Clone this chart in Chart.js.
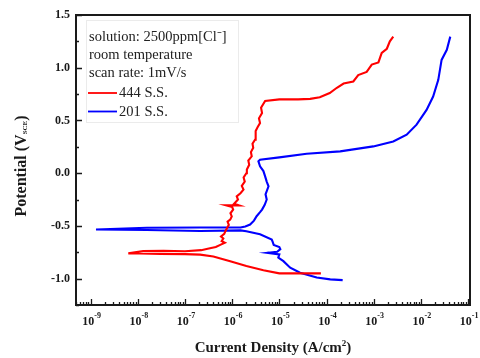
<!DOCTYPE html>
<html>
<head>
<meta charset="utf-8">
<script src="https://cdn.jsdelivr.net/npm/chart.js@4.4.0/dist/chart.umd.min.js"></script>
<style>
    html, body { margin: 0; padding: 0; background: #fff; }
    #wrap { width: 480px; height: 358px; }
</style>
</head>
<body>
<div id="wrap"><canvas id="polChart" width="480" height="358"></canvas></div>
<script>
// ---- Data (potential in V vs SCE, current density in A/cm2), cathodic -> anodic scan ----
const red444Potential = [
    -0.95, -0.95, -0.92, -0.88, -0.835, -0.79, -0.772, -0.768, -0.765, -0.762, -0.76,
    -0.738, -0.735, -0.74, -0.73, -0.715, -0.70, -0.68, -0.66, -0.645, -0.62, -0.60,
    -0.575, -0.55, -0.52, -0.49, -0.46, -0.44, -0.41, -0.38, -0.345, -0.32, -0.305, -0.305,
    -0.29, -0.25, -0.22, -0.19, -0.156, -0.12, -0.08, -0.04, 0.0, 0.034, 0.08, 0.12, 0.16,
    0.20, 0.24, 0.28, 0.317, 0.36, 0.40, 0.44, 0.475, 0.52, 0.57, 0.62, 0.685,
    0.70, 0.70, 0.705, 0.72, 0.76, 0.81, 0.85, 0.87, 0.93, 0.96, 1.03, 1.05, 1.14, 1.18, 1.25, 1.295
];
const red444Current = [
    7.6e-5, 1.0e-5, 4.6e-6, 2.0e-6, 9.1e-7, 4.0e-7, 2.1e-7, 1.0e-7, 3.0e-8, 1.1e-8, 6.3e-9,
    1.3e-8, 3.5e-8, 1.0e-7, 2.2e-7, 3.2e-7, 4.5e-7, 5.6e-7, 7.0e-7, 6.0e-7, 6.5e-7, 5.8e-7,
    6.8e-7, 7.2e-7, 7.8e-7, 8.5e-7, 8.0e-7, 9.1e-7, 9.8e-7, 9.2e-7, 1.05e-6, 1.0e-6, 7.5e-7, 1.4e-6,
    1.1e-6, 1.33e-6, 1.25e-6, 1.5e-6, 1.74e-6, 1.6e-6, 1.85e-6, 1.75e-6, 2.0e-6, 2.05e-6, 2.3e-6, 2.2e-6, 2.6e-6,
    2.5e-6, 2.8e-6, 2.7e-6, 3.05e-6, 3.2e-6, 3.1e-6, 3.5e-6, 3.9e-6, 3.7e-6, 4.3e-6, 4.1e-6, 5.0e-6,
    1.0e-5, 2.5e-5, 4.5e-5, 7.2e-5, 1.17e-4, 1.66e-4, 2.3e-4, 3.7e-4, 4.7e-4, 7.1e-4, 9.1e-4, 1.26e-3, 1.48e-3, 1.9e-3, 2.2e-3, 2.6e-3
];
const blue201Potential = [
    -1.014, -1.007, -0.99, -0.944, -0.896, -0.834, -0.80, -0.77, -0.755, -0.745, -0.72, -0.70,
    -0.68, -0.65, -0.629, -0.58, -0.55, -0.542, -0.548, -0.539, -0.534, -0.518, -0.515, -0.515,
    -0.505, -0.487, -0.45, -0.408, -0.37, -0.345, -0.30, -0.25, -0.20, -0.124, -0.08, -0.03,
    0.02, 0.065, 0.112, 0.128, 0.15, 0.185, 0.207, 0.254, 0.30, 0.365, 0.46, 0.60, 0.727,
    0.885, 1.074, 1.17, 1.295
];
const blue201Current = [
    2.2e-4, 1.2e-4, 6.2e-5, 2.75e-5, 1.7e-5, 1.22e-5, 9.5e-6, 1.0e-5, 5.6e-6, 9.0e-6, 1.05e-5, 1.0e-5,
    7.6e-6, 7.2e-6, 6.9e-6, 3.9e-6, 2.0e-6, 1.5e-6, 2.1e-7, 1.55e-8, 1.3e-9, 1.55e-8, 2.1e-7, 1.5e-6,
    1.9e-6, 2.4e-6, 2.9e-6, 3.3e-6, 3.9e-6, 4.3e-6, 4.9e-6, 5.4e-6, 5.1e-6, 5.9e-6, 5.4e-6, 5.0e-6,
    4.6e-6, 3.9e-6, 3.6e-6, 3.9e-6, 1.0e-5, 3.8e-5, 1.95e-4, 9.8e-4, 2.6e-3, 5.0e-3, 8.1e-3, 1.32e-2, 1.82e-2,
    2.34e-2, 2.75e-2, 3.55e-2, 4.2e-2
];

const xTickExponents = [-9, -8, -7, -6, -5, -4, -3, -2, -1];
const yTickValues = [-1.0, -0.5, 0.0, 0.5, 1.0, 1.5];
const noteLines = ['solution: 2500ppm[Cl\u207B]', 'room temperature', 'scan rate: 1mV/s'];

const SERIF = '"Liberation Serif", "Times New Roman", serif';

function toPoints(cur, pot) {
    return cur.map((c, i) => ({ x: c, y: pot[i] }));
}

// draws base text followed by a raised (sup) or lowered (sub) small part, centred at cx
function drawScripted(ctx, parts, cx, y) {
    let total = 0;
    parts.forEach(p => { ctx.font = p.font; p.w = ctx.measureText(p.text).width; total += p.w; });
    let x = cx - total / 2;
    parts.forEach(p => {
        ctx.font = p.font;
        ctx.fillText(p.text, x, y + (p.dy || 0));
        x += p.w;
    });
}

// ---- Frame, inward ticks, x labels, axis titles and the note/legend box ----
const decorPlugin = {
    id: 'decor',
    afterDatasetsDraw(chart) {
        const { ctx, chartArea: a, scales } = chart;
        const xs = scales.x, ys = scales.y;
        ctx.save();

        ctx.strokeStyle = '#1a1a1a';
        ctx.lineWidth = 2;
        ctx.strokeRect(a.left, a.top, a.right - a.left, a.bottom - a.top);

        // x ticks (log, inward)
        ctx.lineWidth = 1.3;
        ctx.beginPath();
        for (let e = -10; e <= -1; e++) {
            for (let m = 1; m <= 9; m++) {
                const v = m * Math.pow(10, e);
                if (v < xs.min || v > xs.max) continue;
                const px = Math.round(xs.getPixelForValue(v)) + 0.5;
                const len = m === 1 ? 6 : 3;
                ctx.moveTo(px, a.bottom);
                ctx.lineTo(px, a.bottom - len);
            }
        }
        // y ticks (inward)
        for (let v = -1.25; v <= 1.5001; v += 0.25) {
            const py = Math.round(ys.getPixelForValue(v)) + 0.5;
            const major = Math.abs(v * 2 - Math.round(v * 2)) < 1e-6;
            ctx.moveTo(a.left, py);
            ctx.lineTo(a.left + (major ? 6 : 3), py);
        }
        ctx.stroke();

        // x tick labels as 10^n
        ctx.fillStyle = '#1a1a1a';
        ctx.textBaseline = 'alphabetic';
        ctx.textAlign = 'left';
        xTickExponents.forEach(e => {
            const px = xs.getPixelForValue(Math.pow(10, e));
            drawScripted(ctx, [
                { text: '10', font: 'bold 12px ' + SERIF },
                { text: String(e), font: 'bold 8px ' + SERIF, dy: -7 }
            ], px + 1, a.bottom + 20);
        });

        // x title
        drawScripted(ctx, [
            { text: 'Current Density (A/cm', font: 'bold 15px ' + SERIF },
            { text: '2', font: 'bold 9px ' + SERIF, dy: -6 },
            { text: ')', font: 'bold 15px ' + SERIF }
        ], (a.left + a.right) / 2, 352);

        // y title (rotated) with subscript
        ctx.save();
        ctx.translate(26, 166);
        ctx.rotate(-Math.PI / 2);
        drawScripted(ctx, [
            { text: 'Potential (V', font: 'bold 16px ' + SERIF },
            { text: 'SCE', font: 'bold 7px ' + SERIF, dy: 1 },
            { text: ')', font: 'bold 16px ' + SERIF }
        ], 0, 0);
        ctx.restore();

        // note + legend box
        ctx.fillStyle = '#ffffff';
        ctx.fillRect(87, 21, 151, 101);
        ctx.strokeStyle = '#ebebeb';
        ctx.lineWidth = 1;
        ctx.strokeRect(86.5, 20.5, 152, 102);
        ctx.fillStyle = '#222';
        ctx.font = '14.5px ' + SERIF;
        ctx.textBaseline = 'middle';
        noteLines.forEach((s, i) => ctx.fillText(s, 89, 37 + i * 18));
        chart.data.datasets.forEach((ds, i) => {
            const ly = 93 + i * 18.5;
            ctx.strokeStyle = ds.borderColor;
            ctx.lineWidth = 1.8;
            ctx.beginPath();
            ctx.moveTo(88, ly);
            ctx.lineTo(117, ly);
            ctx.stroke();
            ctx.fillText(ds.label, 119, ly + 0.5);
        });
        ctx.restore();
    }
};

const ctx = document.getElementById('polChart').getContext('2d');
new Chart(ctx, {
    type: 'scatter',
    data: {
        datasets: [
            { label: '444 S.S.', data: toPoints(red444Current, red444Potential), borderColor: '#ff0000', backgroundColor: '#ff0000' },
            { label: '201 S.S.', data: toPoints(blue201Current, blue201Potential), borderColor: '#0000ff', backgroundColor: '#0000ff' }
        ].map(ds => Object.assign(ds, { showLine: true, pointRadius: 0, borderWidth: 2.1, tension: 0 }))
    },
    options: {
        responsive: false,
        animation: false,
        layout: { padding: { left: 0, right: 10, top: 15, bottom: 0 } },
        plugins: { legend: { display: false }, tooltip: { enabled: false } },
        scales: {
            x: {
                type: 'logarithmic',
                min: 4.9e-10,
                max: 0.11,
                grid: { display: false },
                border: { display: false },
                ticks: { display: false },
                afterBuildTicks: s => { s.ticks = xTickExponents.map(e => ({ value: Math.pow(10, e) })); },
                afterFit: s => { s.height = 53; }
            },
            y: {
                min: -1.25,
                max: 1.5,
                grid: { display: false, drawTicks: false },
                border: { display: false },
                ticks: {
                    padding: 6,
                    color: '#1a1a1a',
                    font: { family: SERIF, size: 12, weight: 'bold' },
                    callback: v => Number(v).toFixed(1)
                },
                afterBuildTicks: s => { s.ticks = yTickValues.map(v => ({ value: v })); },
                afterFit: s => { s.width = 76; }
            }
        }
    },
    plugins: [decorPlugin]
});
</script>
</body>
</html>
